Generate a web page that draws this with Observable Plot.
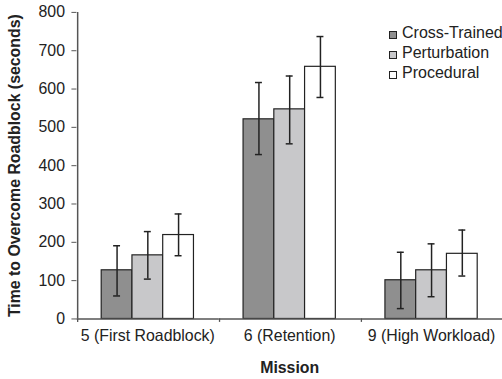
<!DOCTYPE html>
<html>
<head>
<meta charset="utf-8">
<script src="https://cdn.jsdelivr.net/npm/d3@7"></script>
<script src="https://cdn.jsdelivr.net/npm/@observablehq/plot@0.6"></script>
<style>
  html, body { margin: 0; padding: 0; background: #fff; overflow: hidden; }
  #wrap { position: relative; width: 502px; height: 379px; overflow: hidden; font-family: Arial, "Liberation Sans", sans-serif; }
  #legend { position: absolute; left: 389px; top: 23px; font-size: 16px; color: #222; line-height: 20px; white-space: nowrap; }
  #legend div { display: flex; align-items: center; }
  #legend span.sw { display: inline-block; flex: none; width: 6px; height: 6px; border: 1px solid #222; margin-right: 5px; margin-top: 3px; }
  g[aria-label="y-axis label"] text, g[aria-label="fx-axis label"] text { font-weight: bold; }
</style>
</head>
<body>
<div id="wrap"></div>
<script>
const missions = ["5 (First Roadblock)", "6 (Retention)", "9 (High Workload)"];
const series = ["Cross-Trained", "Perturbation", "Procedural"];
const colors = ["#8f8f8f", "#c8c8ca", "#ffffff"];

const crossTrained = [127, 521, 101];
const crossTrainedLow = [60, 429, 27];
const crossTrainedHigh = [191, 617, 174];

const perturbation = [166, 547, 127];
const perturbationLow = [104, 457, 58];
const perturbationHigh = [228, 634, 196];

const procedural = [219, 658, 170];
const proceduralLow = [165, 578, 112];
const proceduralHigh = [274, 737, 232];

const yTicks = [0, 100, 200, 300, 400, 500, 600, 700, 800];

const rows = [];
const sets = [
  [crossTrained, crossTrainedLow, crossTrainedHigh],
  [perturbation, perturbationLow, perturbationHigh],
  [procedural, proceduralLow, proceduralHigh]
];
missions.forEach((m, i) => {
  series.forEach((s, j) => {
    rows.push({mission: m, series: s, value: sets[j][0][i], low: sets[j][1][i], high: sets[j][2][i]});
  });
});

const W = 506, H = 379, ML = 77, MR = 0, MT = 12, MB = 58;
const padOuter = 0.75;
const facetW = (W - ML - MR) / missions.length;
const step = facetW / (series.length + 2 * padOuter);
const edgeDx = -(padOuter * step + step / 2);

const chart = Plot.plot({
  width: W,
  height: H,
  marginLeft: ML,
  marginRight: MR,
  marginTop: MT,
  marginBottom: MB,
  style: {fontFamily: 'Arial, "Liberation Sans", sans-serif', fontSize: "16px", color: "#222", background: "#fff"},
  fx: {domain: missions, padding: 0},
  x: {domain: series, paddingInner: 0, paddingOuter: padOuter, axis: null},
  y: {domain: [0, 800]},
  color: {domain: series, range: colors},
  marks: [
    Plot.barY(rows, {fx: "mission", x: "series", y: "value", fill: "series", stroke: "#222", strokeWidth: 1.2}),
    Plot.ruleX(rows, {fx: "mission", x: "series", y1: "low", y2: "high", stroke: "#222", strokeWidth: 1.5}),
    Plot.tickY(rows, {fx: "mission", x: "series", y: "low", stroke: "#222", strokeWidth: 1.5, insetLeft: 12, insetRight: 12}),
    Plot.tickY(rows, {fx: "mission", x: "series", y: "high", stroke: "#222", strokeWidth: 1.5, insetLeft: 12, insetRight: 12}),
    Plot.ruleY([0], {stroke: "#555", strokeWidth: 1.6}),
    // category boundary ticks below the axis
    Plot.ruleX(missions, {fx: d => d, x: () => series[0], dx: edgeDx, y1: 0, y2: -9, stroke: "#555", strokeWidth: 1.3}),
    // y axis line (first facet only)
    Plot.ruleX(missions.slice(0, 1), {fx: d => d, x: () => series[0], dx: edgeDx, y1: 0, y2: 800, stroke: "#555", strokeWidth: 1.5}),
    Plot.axisY({ticks: yTicks, tickSize: 5, tickPadding: 7, tickFormat: d => String(d), stroke: "#555",
      label: "Time to Overcome Roadblock (seconds)", labelAnchor: "center", labelArrow: "none", labelOffset: 69}),
    Plot.axisFx({anchor: "bottom", tickSize: 0, tickPadding: 11, label: "Mission", labelAnchor: "center", labelArrow: "none", labelOffset: 54})
  ]
});

const wrap = document.getElementById("wrap");
wrap.appendChild(chart);

const legend = document.createElement("div");
legend.id = "legend";
series.forEach((s, j) => {
  const row = document.createElement("div");
  const sw = document.createElement("span");
  sw.className = "sw";
  sw.style.background = colors[j];
  row.appendChild(sw);
  row.appendChild(document.createTextNode(s));
  legend.appendChild(row);
});
wrap.appendChild(legend);
</script>
</body>
</html>
